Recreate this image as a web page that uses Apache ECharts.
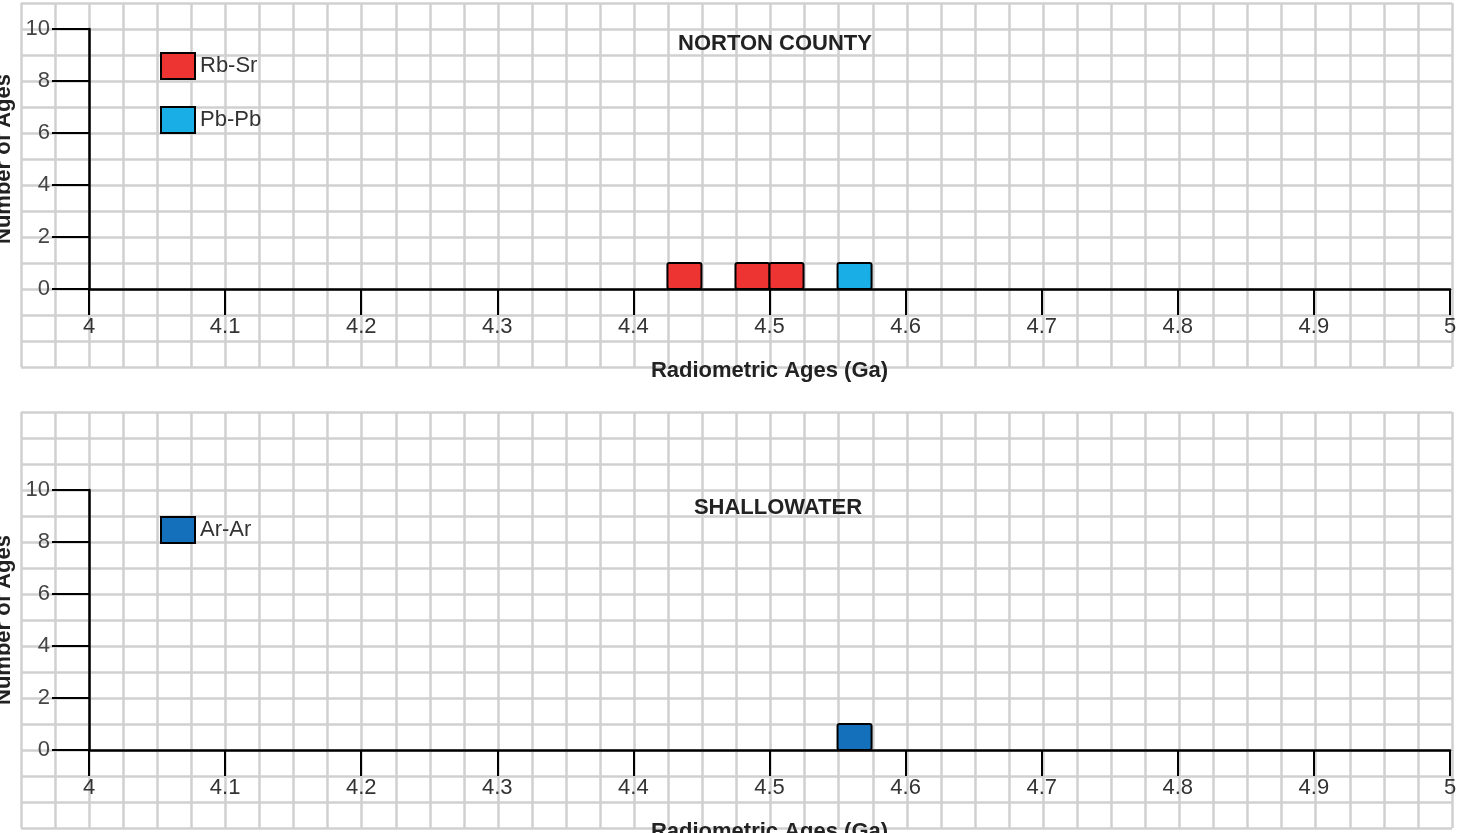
<!DOCTYPE html>
<html><head><meta charset="utf-8">
<script src="https://cdn.jsdelivr.net/npm/echarts@6/dist/echarts.min.js"></script>
<style>html,body{margin:0;padding:0;background:#fff}#c{width:1464px;height:833px}</style>
</head><body><div id="c"></div>
<script>
const xTicks = [4,4.1,4.2,4.3,4.4,4.5,4.6,4.7,4.8,4.9,5];
const yTicks = [0,2,4,6,8,10];
const rbSr = [[4.425,4.45,1],[4.475,4.5,1],[4.5,4.525,1]];
const pbPb = [[4.55,4.575,1]];
const arAr = [[4.55,4.575,1]];
const titles = ['NORTON COUNTY','SHALLOWATER'];

const chart = echarts.init(document.getElementById('c'));
const F = 'Liberation Sans, Arial, sans-serif';
const gridLine = {show:true,lineStyle:{color:'#d0d0d0',width:2.5}};
function bgAxes(i){
  return {
    x:{type:'value',gridIndex:i,min:3.95,max:5.0,interval:0.025,axisLine:{show:false},axisTick:{show:false},axisLabel:{show:false},splitLine:gridLine},
    y:{type:'value',gridIndex:i,min:-3,max:i===0?11:13,interval:1,axisLine:{show:false},axisTick:{show:false},axisLabel:{show:false},splitLine:gridLine}
  };
}
function mainAxes(i){
  return {
    x:{type:'value',gridIndex:i,min:4,max:5,interval:0.1,name:'Radiometric Ages (Ga)',nameLocation:'middle',nameGap:71,
      nameTextStyle:{fontFamily:F,fontSize:22,fontWeight:'bold',color:'#222'},
      axisLine:{lineStyle:{color:'#000',width:2.5}},axisTick:{show:true,inside:false,length:26,lineStyle:{color:'#000',width:2}},
      axisLabel:{fontFamily:F,fontSize:22,color:'#333',margin:27,formatter:v=>xTicks.includes(+v.toFixed(1))?String(+v.toFixed(1)):''},splitLine:{show:false}},
    y:{type:'value',gridIndex:i,min:0,max:10,interval:2,name:'Number of Ages',nameLocation:'middle',nameGap:73,
      nameTextStyle:{fontFamily:F,fontSize:22,fontWeight:'bold',color:'#222'},
      axisLine:{lineStyle:{color:'#000',width:2.5}},axisTick:{show:true,length:37,lineStyle:{color:'#000',width:2}},
      axisLabel:{fontFamily:F,fontSize:22,color:'#444',margin:39,formatter:v=>yTicks.includes(v)?String(v):''},splitLine:{show:false}}
  };
}
const b0=bgAxes(0),b1=bgAxes(1),m0=mainAxes(0),m1=mainAxes(1);
function rect(params, api){
  const p0 = api.coord([api.value(0), api.value(2)]);
  const p1 = api.coord([api.value(1), 0]);
  return {type:'rect',shape:{x:p0[0],y:p0[1],width:p1[0]-p0[0],height:p1[1]-p0[1],r:2},
    style:{fill:api.visual('color'),stroke:'#000',lineWidth:2}};
}
function ser(name,data,color,xi){
  return {type:'custom',name,data,xAxisIndex:xi,yAxisIndex:xi,renderItem:rect,itemStyle:{color},encode:{x:[0,1],y:2},z:5};
}
const leg = (names,top)=>({data:names,orient:'vertical',left:155,top,itemWidth:34,itemHeight:26,itemGap:26,
  icon:'rect',textStyle:{fontFamily:F,fontSize:22,color:'#333'},itemStyle:{borderColor:'#000',borderWidth:2},selectedMode:false});
const G = (o)=>Object.assign({containLabel:false,outerBoundsMode:'none'},o);
chart.setOption({
  animation:false,
  title:[
    {text:titles[0],left:770,top:28,textAlign:'center',textStyle:{fontFamily:F,fontSize:22,fontWeight:'bold',color:'#222'}},
    {text:titles[1],left:773,top:492,textAlign:'center',textStyle:{fontFamily:F,fontSize:22,fontWeight:'bold',color:'#222'}}
  ],
  legend:[leg(['Rb-Sr','Pb-Pb'],47),leg(['Ar-Ar'],511)],
  grid:[
    G({left:21,width:1431,top:3,height:364}),
    G({left:21,width:1431,top:412,height:416}),
    G({left:89,width:1361,top:29,height:260}),
    G({left:89,width:1361,top:490,height:260})
  ],
  xAxis:[b0.x,b1.x,Object.assign(m0.x,{gridIndex:2}),Object.assign(m1.x,{gridIndex:3})],
  yAxis:[b0.y,b1.y,Object.assign(m0.y,{gridIndex:2}),Object.assign(m1.y,{gridIndex:3})],
  series:[
    ser('Rb-Sr',rbSr,'#ee3333',2),
    ser('Pb-Pb',pbPb,'#1aaee6',2),
    ser('Ar-Ar',arAr,'#1570bb',3)
  ]
});
</script></body></html>
